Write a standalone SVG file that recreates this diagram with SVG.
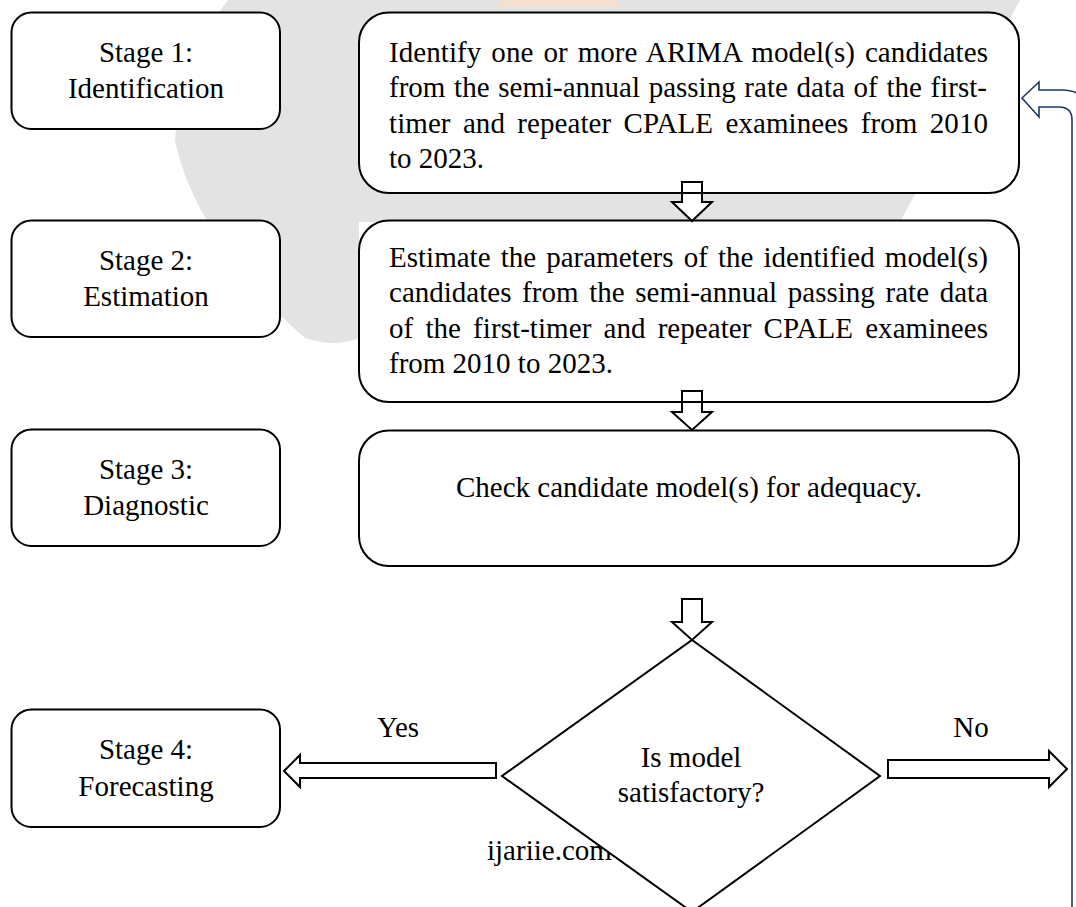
<svg xmlns="http://www.w3.org/2000/svg" width="1076" height="907" viewBox="0 0 1076 907">
  <defs>
    <style>
      .box { fill: #ffffff; stroke: #000000; stroke-width: 2; }
      .arrow { fill: #ffffff; stroke: #000000; stroke-width: 2; stroke-linejoin: miter; }
      .fb { fill: #ffffff; stroke: #1F3864; stroke-width: 1.6; stroke-linejoin: miter; }
      .t { font-family: "Liberation Serif", "Times New Roman", serif; font-size: 29px; fill: #000000; }
      .c { text-anchor: middle; }
    </style>
  </defs>
  <rect x="0" y="0" width="1076" height="907" fill="#ffffff"/>

  <!-- faint background watermark -->
  <g id="watermark">
    <path d="M 228 0 L 1020 0 L 900 222 L 359 222 L 359 338 Q 335 348 305 338 C 250 290 190 215 175 140 C 180 80 205 30 228 0 Z" fill="#e3e3e3"/>
    <rect x="500" y="0" width="117" height="6" fill="#f6e0ce"/>
    <text class="t" x="487" y="860">ijariie.com</text>
  </g>

  <!-- stage labels -->
  <g id="stage1">
    <rect class="box" x="11.5" y="12.5" width="268.5" height="116.5" rx="20" ry="20"/>
    <text class="t c" x="146" y="61.5">Stage 1:</text>
    <text class="t c" x="146" y="98">Identification</text>
  </g>
  <g id="stage2">
    <rect class="box" x="11.5" y="220.5" width="268.5" height="116.5" rx="20" ry="20"/>
    <text class="t c" x="146" y="269.5">Stage 2:</text>
    <text class="t c" x="146" y="306">Estimation</text>
  </g>
  <g id="stage3">
    <rect class="box" x="11.5" y="429.5" width="268.5" height="116.5" rx="20" ry="20"/>
    <text class="t c" x="146" y="478.5">Stage 3:</text>
    <text class="t c" x="146" y="515">Diagnostic</text>
  </g>
  <g id="stage4">
    <rect class="box" x="11.5" y="709.5" width="268.5" height="117.5" rx="20" ry="20"/>
    <text class="t c" x="146" y="759">Stage 4:</text>
    <text class="t c" x="146" y="795.5">Forecasting</text>
  </g>

  <!-- process boxes -->
  <g id="identify">
    <rect class="box" x="359" y="12.5" width="660" height="180.5" rx="30" ry="30"/>
    <text class="t" x="389" y="61.5" word-spacing="2.6" textLength="599" lengthAdjust="spacing">Identify one or more ARIMA model(s) candidates</text>
    <text class="t" x="389" y="97" word-spacing="1.5" textLength="598" lengthAdjust="spacing">from the semi-annual passing rate data of the first-</text>
    <text class="t" x="389" y="132.5" word-spacing="5" textLength="599" lengthAdjust="spacing">timer and repeater CPALE examinees from 2010</text>
    <text class="t" x="389" y="168">to 2023.</text>
  </g>
  <g id="estimate">
    <rect class="box" x="359" y="220.5" width="660" height="181.5" rx="30" ry="30"/>
    <text class="t" x="389" y="267" word-spacing="2.9" textLength="599" lengthAdjust="spacing">Estimate the parameters of the identified model(s)</text>
    <text class="t" x="389" y="302" word-spacing="3.4" textLength="599" lengthAdjust="spacing">candidates from the semi-annual passing rate data</text>
    <text class="t" x="389" y="338" word-spacing="4.8" textLength="599" lengthAdjust="spacing">of the first-timer and repeater CPALE examinees</text>
    <text class="t" x="389" y="373">from 2010 to 2023.</text>
  </g>
  <g id="check">
    <rect class="box" x="359" y="430.5" width="660" height="135.5" rx="30" ry="30"/>
    <text class="t c" x="689" y="497">Check candidate model(s) for adequacy.</text>
  </g>
  <g id="decision">
    <polygon class="box" points="692,640 880,776 692,912 502,776"/>
    <text class="t c" x="691" y="767">Is model</text>
    <text class="t c" x="691" y="802">satisfactory?</text>
  </g>

  <!-- connectors -->
  <g id="connectors">
    <path class="arrow" d="M682 182 L702 182 L702 202 L712 202 L692 221 L672 202 L682 202 Z"/>
    <line x1="682" y1="193" x2="702" y2="193" stroke="#000" stroke-width="2"/>
    <path class="arrow" d="M682 391 L702 391 L702 412 L712 412 L692 430 L672 412 L682 412 Z"/>
    <line x1="682" y1="402" x2="702" y2="402" stroke="#000" stroke-width="2"/>
    <path class="arrow" d="M682 599 L702 599 L702 622 L712 622 L692 640 L672 622 L682 622 Z"/>
    <path class="arrow" d="M496 763 L300 763 L300 755 L284 771 L300 787 L300 778 L496 778 Z"/>
    <path class="arrow" d="M888 760 L1049 760 L1049 751 L1067 769 L1049 787 L1049 778 L888 778 Z"/>
    <path class="fb" d="M1022 98 L1039 82 L1039 90 L1062 90 Q1088 90 1088 116 L1088 912 L1072 912 L1072 120 Q1072 107 1059 107 L1039 107 L1039 117 Z"/>
    <text class="t c" x="398" y="737">Yes</text>
    <text class="t c" x="971" y="737">No</text>
  </g>
</svg>
